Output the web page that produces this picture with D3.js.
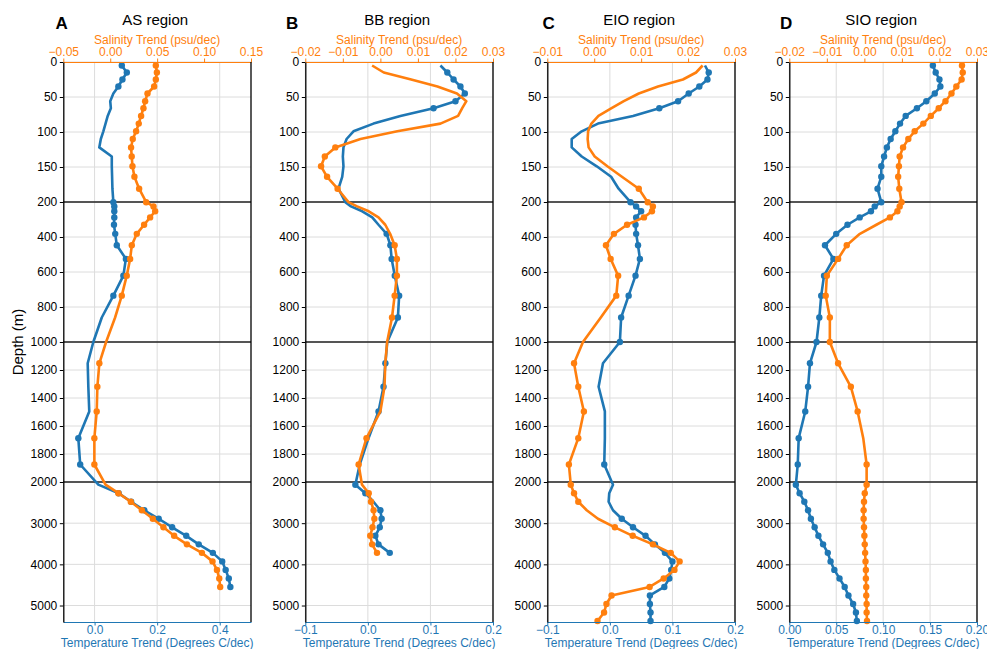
<!DOCTYPE html>
<meta charset="utf-8">
<title>Temperature and salinity trend profiles</title>
<style>
  body { margin: 0; background: #fff; }
  text { font-family: "Liberation Sans", Arial, sans-serif; }
</style>
<body>
<script src="https://cdn.jsdelivr.net/npm/d3@7"></script>
<script>

// depth levels (m), shared by all four regions
var depths = [5, 15, 25, 35, 45, 56, 66, 77, 88, 99, 110, 122, 135, 149, 164, 181, 201,
  225, 253, 288, 330, 382, 447, 525, 621, 735, 860, 1000,
  1152, 1320, 1496, 1687, 1875,
  2065, 2272, 2479, 2686, 2893, 3100, 3307, 3514, 3721, 3928, 4135, 4342, 4549, 4756, 4963, 5170, 5377];

var regions = ["AS region", "BB region", "EIO region", "SIO region"];
var letters = ["A", "B", "C", "D"];

// temperature trend (deg C/dec) and salinity trend (psu/dec); sig = 1 where a marker is drawn
var asTemp = [0.087, 0.103, 0.089, 0.076, 0.060, 0.050, 0.052, 0.042, 0.035, 0.028, 0.020, 0.015, 0.055, 0.055, 0.056, 0.057, 0.060,
  0.063, 0.063, 0.063, 0.062, 0.066, 0.071, 0.100, 0.092, 0.060, 0.023, -0.004,
  -0.022, -0.020, -0.017, -0.052, -0.046,
  0.012, 0.077, 0.117, 0.159, 0.205, 0.248, 0.293, 0.333, 0.378, 0.408, 0.419, 0.429, 0.434, null, null, null, null];
var asTempSig = [1,1,1,1,0,0,0,0,0,0,0,0,0,0,0,0,1,
  1,1,1,1,1,1,1,1,1,0,0,
  0,0,0,1,1,
  0,1,1,1,1,1,1,1,1,1,1,1,1,0,0,0,0];
var asSal = [0.0486, 0.0497, 0.0486, 0.0468, 0.0397, 0.0372, 0.0354, 0.0329, 0.0304, 0.0276, 0.0240, 0.0222, 0.0229, 0.0237, 0.0258, 0.0308, 0.0383,
  0.0461, 0.0479, 0.0425, 0.0361, 0.0283, 0.0230, 0.0212, 0.0176, 0.0123, 0.0052, -0.0044,
  -0.0116, -0.0137, -0.0144, -0.0169, -0.0169,
  -0.005, 0.0087, 0.0219, 0.0337, 0.0454, 0.0567, 0.0681, 0.0817, 0.0977, 0.1090, 0.1137, 0.1162, 0.1172, null, null, null, null];
var asSalSig = [1,1,1,1,1,1,1,1,1,1,1,1,1,1,1,1,1,
  1,1,1,1,1,1,1,1,1,0,0,
  1,1,1,1,1,
  0,1,1,1,1,1,1,1,1,1,1,1,1,0,0,0,0];

var bbTemp = [0.116, 0.127, 0.137, 0.148, 0.155, 0.140, 0.105, 0.052, 0.009, -0.023, -0.034, -0.039, -0.040, -0.039, -0.041, -0.047, -0.036,
  -0.027, -0.009, 0.007, 0.017, 0.030, 0.036, 0.038, 0.043, 0.050, 0.048, 0.031,
  0.028, 0.025, 0.017, 0.001, -0.013,
  -0.020, -0.004, 0.009, 0.020, 0.022, 0.019, 0.012, 0.017, 0.035, null, null, null, null, null, null, null, null];
var bbTempSig = [0,1,1,1,1,1,1,0,0,0,0,0,0,0,0,0,0,
  0,0,0,0,1,1,1,1,1,1,0,
  1,1,1,0,0,
  1,1,0,1,1,1,1,1,1,0,0,0,0,0,0,0,0];
var bbSal = [-0.0022, 0.0009, 0.0082, 0.0152, 0.0204, 0.0229, 0.0218, 0.0207, 0.0160, 0.0045, -0.0053, -0.0120, -0.0148, -0.0158, -0.0142, -0.0114, -0.0085,
  -0.0062, -0.0031, -0.0005, 0.0013, 0.0026, 0.0038, 0.0044, 0.0044, 0.0038, 0.0031, 0.0018,
  0.0013, 0.0011, 0.0000, -0.0037, -0.0058,
  -0.0049, -0.0031, -0.0025, -0.0018, -0.0016, -0.0021, -0.0027, -0.0022, -0.0009, null, null, null, null, null, null, null, null];
var bbSalSig = [0,0,0,0,0,0,0,0,0,0,0,1,1,1,1,1,0,
  0,0,0,0,0,1,1,1,1,1,0,
  0,0,0,1,1,
  0,1,1,1,1,1,1,1,1,0,0,0,0,0,0,0,0];

var eioTemp = [0.152, 0.158, 0.156, 0.143, 0.126, 0.109, 0.079, 0.037, -0.019, -0.045, -0.061, -0.061, -0.045, -0.021, 0.002, 0.014, 0.033,
  0.042, 0.050, 0.042, 0.041, 0.042, 0.045, 0.048, 0.041, 0.030, 0.018, 0.016,
  -0.011, -0.018, -0.008, -0.008, -0.009,
  0.005, -0.001, -0.002, 0.005, 0.019, 0.037, 0.057, 0.072, 0.088, 0.100, 0.098, 0.095, 0.087, 0.064, 0.064, 0.065, 0.065];
var eioTempSig = [0,1,1,1,1,1,1,0,0,0,0,0,0,0,0,0,1,
  1,1,1,1,1,1,1,1,1,1,1,
  0,0,0,0,1,
  0,0,0,0,1,1,1,1,1,1,1,1,1,1,1,1,1];
var eioSal = [0.0231, 0.0217, 0.0189, 0.0136, 0.0095, 0.0063, 0.0037, 0.0009, -0.0006, -0.0013, -0.0014, -0.0012, 0.0001, 0.0028, 0.0059, 0.0095, 0.0114,
  0.0125, 0.0123, 0.0106, 0.0070, 0.0042, 0.0025, 0.0035, 0.0051, 0.0047, 0.0014, -0.0024,
  -0.0043, -0.0034, -0.0022, -0.0034, -0.0054,
  -0.0050, -0.0043, -0.0034, -0.0016, 0.0008, 0.0044, 0.0082, 0.0125, 0.0163, 0.0182, 0.0171, 0.0148, 0.0118, 0.0037, 0.0026, 0.0021, 0.0007];
var eioSalSig = [0,0,0,0,0,0,0,0,0,0,0,0,0,0,0,1,1,
  1,1,1,1,1,1,1,1,1,0,0,
  1,1,1,1,1,
  1,1,1,0,0,1,1,1,1,1,1,1,1,1,1,1,1];

var sioTemp = [0.153, 0.156, 0.160, 0.161, 0.155, 0.146, 0.136, 0.124, 0.118, 0.113, 0.108, 0.104, 0.101, 0.098, 0.098, 0.094, 0.098,
  0.091, 0.087, 0.075, 0.062, 0.050, 0.038, 0.047, 0.037, 0.034, 0.032, 0.029,
  0.022, 0.020, 0.017, 0.010, 0.009,
  0.007, 0.011, 0.016, 0.020, 0.023, 0.027, 0.031, 0.036, 0.041, 0.044, 0.048, 0.0535, 0.059, 0.063, 0.068, 0.071, 0.072];
var sioTempSig = [1,1,1,1,1,1,1,1,1,1,1,1,1,1,1,1,1,
  1,1,1,1,1,1,1,1,1,1,1,
  1,1,1,1,1,
  1,1,1,1,1,1,1,1,1,1,1,1,1,1,1,1,1];
var sioSal = [0.0260, 0.0262, 0.0259, 0.0245, 0.0232, 0.0216, 0.0198, 0.0177, 0.0157, 0.0134, 0.0117, 0.0103, 0.0094, 0.0092, 0.0090, 0.0093, 0.0099,
  0.0094, 0.0088, 0.0068, 0.0032, -0.0012, -0.0047, -0.0070, -0.0100, -0.0103, -0.0092, -0.0092,
  -0.0070, -0.0036, -0.0018, -0.0003, 0.0006,
  0.0006, 0.0001, -0.0001, -0.0002, -0.0002, -0.0001, 0.0000, 0.0001, 0.0002, 0.0003, 0.0004, 0.0004, 0.0005, 0.0005, 0.0006, 0.0006, 0.0007];
var sioSalSig = [1,1,1,1,1,1,1,1,1,1,1,1,1,1,1,1,1,
  1,1,1,0,0,1,1,1,1,1,1,
  1,1,1,0,1,
  1,1,1,1,1,1,1,1,1,1,1,1,1,1,1,1,1];

// axis ranges and tick labels
var tempDomains = [[-0.1, 0.5], [-0.1, 0.2], [-0.1, 0.2], [0, 0.2]];
var tempTicks = [[0, 0.2, 0.4], [-0.1, 0, 0.1, 0.2], [-0.1, 0, 0.1, 0.2], [0, 0.05, 0.1, 0.15, 0.2]];
var tempFormats = [".1f", ".1f", ".1f", ".2f"];
var salDomains = [[-0.05, 0.15], [-0.02, 0.03], [-0.01, 0.03], [-0.02, 0.03]];
var salTicks = [[-0.05, 0, 0.05, 0.10, 0.15], [-0.02, -0.01, 0, 0.01, 0.02, 0.03], [-0.01, 0, 0.01, 0.02, 0.03], [-0.02, -0.01, 0, 0.01, 0.02, 0.03]];
var depthBreaks = [0, 200, 1000, 2000, 5400];
var depthTicks = [0, 50, 100, 150, 200, 400, 600, 800, 1000, 1200, 1400, 1600, 1800, 2000, 3000, 4000, 5000];

var series = [
  [asTemp, asTempSig, asSal, asSalSig],
  [bbTemp, bbTempSig, bbSal, bbSalSig],
  [eioTemp, eioTempSig, eioSal, eioSalSig],
  [sioTemp, sioTempSig, sioSal, sioSalSig]
];

var width = 987, height = 649,
    plotTop = 62, segH = 140,
    left0 = 63.3, step = 242, pw = 187.7,
    blue = "#1f77b4", orange = "#ff7f0e";

var svg = d3.select("body").append("svg")
  .attr("width", width)
  .attr("height", height)
  .style("background", "#fff");

// piecewise depth axis: each break segment gets the same height
var y = d3.scaleLinear()
  .domain(depthBreaks)
  .range(depthBreaks.map(function (d, i) { return plotTop + i * segH; }));
var plotBottom = y(5400);

var letterX = [55.5, 286, 542.5, 780];

regions.forEach(function (name, i) {
  var x0 = left0 + i * step;
  var g = svg.append("g").attr("transform", "translate(" + x0 + ",0)");
  var xT = d3.scaleLinear().domain(tempDomains[i]).range([0, pw]);
  var xS = d3.scaleLinear().domain(salDomains[i]).range([0, pw]);

  // grid
  g.selectAll(".vgrid").data(tempTicks[i]).join("line")
    .attr("x1", xT).attr("x2", xT)
    .attr("y1", plotTop).attr("y2", plotBottom)
    .attr("stroke", "#dcdcdc").attr("stroke-width", 1);
  g.selectAll(".hgrid").data(depthTicks).join("line")
    .attr("x1", 0).attr("x2", pw)
    .attr("y1", y).attr("y2", y)
    .attr("stroke", "#dcdcdc").attr("stroke-width", 1);

  // break lines
  g.selectAll(".brk").data([200, 1000, 2000]).join("line")
    .attr("x1", 0).attr("x2", pw)
    .attr("y1", y).attr("y2", y)
    .attr("stroke", "#222").attr("stroke-width", 1.3);

  var s = series[i];
  drawProfile(g, s[0], s[1], xT, blue);
  drawProfile(g, s[2], s[3], xS, orange);

  // axes
  var axB = g.append("g").attr("transform", "translate(0," + plotBottom + ")")
    .call(d3.axisBottom(xT).tickValues(tempTicks[i]).tickFormat(d3.format(tempFormats[i]))
      .tickSizeInner(3.5).tickSizeOuter(0).tickPadding(0));
  styleAxis(axB, blue);

  var axT = g.append("g").attr("transform", "translate(0," + plotTop + ")")
    .call(d3.axisTop(xS).tickValues(salTicks[i]).tickFormat(d3.format(".2f"))
      .tickSizeInner(3.5).tickSizeOuter(0).tickPadding(2.5));
  styleAxis(axT, orange);

  var axL = g.append("g")
    .call(d3.axisLeft(y).tickValues(depthTicks).tickFormat(d3.format("d"))
      .tickSizeInner(3.5).tickSizeOuter(0).tickPadding(2.5));
  styleAxis(axL, "#000");
  axL.select(".domain").attr("stroke-width", 1.3);

  g.append("line")
    .attr("x1", pw).attr("x2", pw).attr("y1", plotTop).attr("y2", plotBottom)
    .attr("stroke", "#000").attr("stroke-width", 1.3);

  // labels
  g.append("text")
    .attr("x", pw / 2 - 2).attr("y", 25)
    .attr("text-anchor", "middle")
    .attr("font-size", 15)
    .text(name);
  g.append("text")
    .attr("x", pw / 2).attr("y", 43.5)
    .attr("text-anchor", "middle")
    .attr("font-size", 12)
    .attr("fill", orange)
    .text("Salinity Trend (psu/dec)");
  g.append("text")
    .attr("x", pw / 2).attr("y", 646.5)
    .attr("text-anchor", "middle")
    .attr("font-size", 12)
    .attr("fill", blue)
    .text("Temperature Trend (Degrees C/dec)");

  svg.append("text")
    .attr("x", letterX[i]).attr("y", 29)
    .attr("font-size", 17)
    .attr("font-weight", "bold")
    .text(letters[i]);
});

svg.append("text")
  .attr("transform", "translate(23," + y(1000) + ") rotate(-90)")
  .attr("text-anchor", "middle")
  .attr("font-size", 15)
  .text("Depth (m)");

function drawProfile(g, vals, sig, x, color) {
  var pts = depths.map(function (d, k) { return { d: d, v: vals[k], s: sig[k] }; });
  var line = d3.line()
    .defined(function (p) { return p.v != null; })
    .x(function (p) { return x(p.v); })
    .y(function (p) { return y(p.d); });
  g.append("path")
    .datum(pts)
    .attr("d", line)
    .attr("fill", "none")
    .attr("stroke", color)
    .attr("stroke-width", 2.6)
    .attr("stroke-linejoin", "round");
  g.selectAll(null)
    .data(pts.filter(function (p) { return p.v != null && p.s; }))
    .join("circle")
    .attr("cx", function (p) { return x(p.v); })
    .attr("cy", function (p) { return y(p.d); })
    .attr("r", 3.2)
    .attr("fill", color);
}

function styleAxis(ax, color) {
  ax.select(".domain").attr("stroke", color).attr("stroke-width", 1.2);
  ax.selectAll(".tick line").attr("stroke", color);
  ax.selectAll(".tick text")
    .attr("fill", color)
    .attr("font-size", 12)
    .attr("font-family", "Liberation Sans, Arial, sans-serif");
}

</script>
</body>
